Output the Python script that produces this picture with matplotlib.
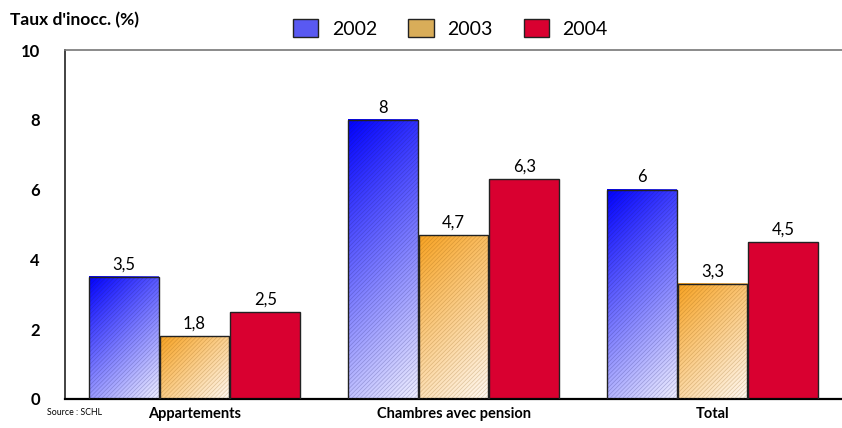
import numpy as np
import matplotlib
matplotlib.use('Agg')
import matplotlib.pyplot as plt
from matplotlib.patches import Patch

plt.rcParams['font.family'] = ['Lato', 'DejaVu Sans']
plt.rcParams['hatch.linewidth'] = 0.5

categories = ['Appartements', 'Chambres avec pension', 'Total']
years = ['2002', '2003', '2004']
v2002 = [3.5, 8.0, 6.0]
v2003 = [1.8, 4.7, 3.3]
v2004 = [2.5, 6.3, 4.5]
labels2002 = ['3,5', '8', '6']
labels2003 = ['1,8', '4,7', '3,3']
labels2004 = ['2,5', '6,3', '4,5']

series = [v2002, v2003, v2004]
series_labels = [labels2002, labels2003, labels2004]
dark = [(0.0, 0.0, 1.0), (0.97, 0.64, 0.14), (0.85, 0.0, 0.19)]
light = [(0.94, 0.94, 1.0), (1.0, 0.98, 0.96), (0.85, 0.0, 0.19)]
hatch_col = [(0.1, 0.1, 0.4, 0.25), (0.5, 0.3, 0.0, 0.25), None]

fig = plt.figure(figsize=(8.42, 4.28), dpi=100)
ax = fig.add_axes([0.0772, 0.0678, 0.9228, 0.8152])

x = np.arange(len(categories))
w = 0.27
offsets = [-0.273, 0.0, 0.273]
px_x = 259.0   # pixels per category unit
px_y = 34.9    # pixels per y unit


def gradient(c0, c1, wpx, hpx, n=80):
    xx, yy = np.meshgrid(np.linspace(0, 1, n), np.linspace(0, 1, n))
    t = (xx * wpx + yy * hpx) / (wpx + hpx)
    img = np.zeros((n, n, 3))
    for k in range(3):
        img[:, :, k] = c0[k] + (c1[k] - c0[k]) * t
    return img


for i, vals in enumerate(series):
    bars = ax.bar(x + offsets[i], vals, w, facecolor='none', edgecolor='#222222',
                  linewidth=1.0, zorder=4)
    for b, lab in zip(bars, series_labels[i]):
        x0, y0 = b.get_x(), b.get_y()
        bw, bh = b.get_width(), b.get_height()
        if dark[i] != light[i]:
            img = gradient(dark[i], light[i], bw * px_x, bh * px_y)
            ax.imshow(img, extent=[x0, x0 + bw, y0, y0 + bh], origin='upper',
                      aspect='auto', zorder=2, interpolation='bilinear')
            ax.bar(x0 + bw / 2, bh, bw, facecolor='none', edgecolor=hatch_col[i],
                   hatch='////////', linewidth=0, zorder=3)
        else:
            ax.bar(x0 + bw / 2, bh, bw, color=dark[i], linewidth=0, zorder=2)
        ax.text(x0 + bw / 2, y0 + bh + 0.12, lab, ha='center', va='bottom',
                fontsize=12, color='black')

ax.set_xlim(-0.5, 2.5)
ax.set_ylim(0, 10)
ax.set_yticks([0, 2, 4, 6, 8, 10])
ax.set_yticklabels(['0', '2', '4', '6', '8', '10'], fontweight='bold', fontsize=12)
ax.set_xticks(x)
ax.set_xticklabels(categories, fontweight='bold', fontsize=10.5)
ax.tick_params(axis='both', length=0)
ax.tick_params(axis='y', pad=18)
ax.tick_params(axis='x', pad=6)

ax.spines['right'].set_visible(False)
ax.spines['top'].set_color('#777777')
ax.spines['top'].set_linewidth(1.2)
ax.spines['left'].set_color('#222222')
ax.spines['left'].set_linewidth(1.2)
ax.spines['bottom'].set_color('black')
ax.spines['bottom'].set_linewidth(1.6)

handles = [Patch(facecolor=(0.35, 0.35, 0.95), edgecolor='#222222'),
           Patch(facecolor=(0.85, 0.68, 0.35), edgecolor='#222222'),
           Patch(facecolor=dark[2], edgecolor='#222222')]
fig.legend(handles, years, loc='center', bbox_to_anchor=(0.535, 0.933), ncol=3,
           frameon=False, fontsize=14, handlelength=1.3, handleheight=1.0,
           columnspacing=1.6, handletextpad=0.7)

fig.text(0.012, 0.952, "Taux d'inocc. (%)", fontsize=12.5, fontweight='bold',
         ha='left', va='center')
fig.text(0.056, 0.036, 'Source : SCHL', fontsize=6.3, ha='left', va='center')

plt.savefig('out.png', format='png', dpi=100)
